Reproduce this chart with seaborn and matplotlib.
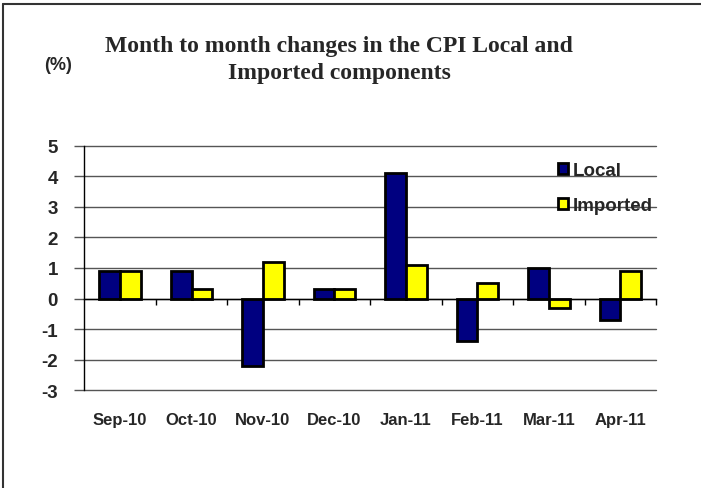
import pandas as pd
import numpy as np
import matplotlib.pyplot as plt
import seaborn as sns
from matplotlib.lines import Line2D

months = ['Sep-10', 'Oct-10', 'Nov-10', 'Dec-10', 'Jan-11', 'Feb-11', 'Mar-11', 'Apr-11']
local = [0.9, 0.9, -2.2, 0.3, 4.1, -1.4, 1.0, -0.7]
imported = [0.9, 0.3, 1.2, 0.3, 1.1, 0.5, -0.3, 0.9]

df = pd.DataFrame({'month': months * 2,
                   'value': local + imported,
                   'series': ['Local'] * len(months) + ['Imported'] * len(months)})

sns.set_style('white')
plt.rcParams['font.family'] = ['Liberation Sans', 'DejaVu Sans']
plt.rcParams['axes.unicode_minus'] = False

fig = plt.figure(figsize=(7.01, 4.89), dpi=100)
ax = fig.add_axes([0.1203, 0.2004, 0.8155, 0.499])

sns.barplot(data=df, x='month', y='value', hue='series',
            palette={'Local': '#000080', 'Imported': '#FFFF00'},
            width=0.58, edgecolor='black', linewidth=2, saturation=1, ax=ax)

ax.set_ylim(-3, 5)
ax.set_xlim(-0.5, 7.5)
ax.set_yticks(range(-3, 6))
ax.yaxis.grid(True, color='#555555', linewidth=1)
for gl in ax.get_ygridlines():
    gl.set_clip_on(False)
ax.set_axisbelow(True)
ax.set_xlabel('')
ax.set_ylabel('')

for s in ['top', 'right']:
    ax.spines[s].set_visible(False)
ax.spines['left'].set_color('black')
ax.spines['left'].set_linewidth(1)
ax.spines['bottom'].set_position(('data', 0))
ax.spines['bottom'].set_color('black')
ax.spines['bottom'].set_linewidth(1)

# small ticks on the zero line between months
ax.set_xticks(np.arange(0.5, 8, 1), minor=True)
ax.tick_params(axis='x', which='minor', bottom=True, length=4, width=1, color='black', direction='out')
ax.tick_params(axis='x', which='major', bottom=True, length=0, pad=82)
ax.tick_params(axis='y', left=True, length=7, width=1, color='#555555', pad=12)
for lab in ax.get_xticklabels():
    lab.set_fontsize(12)
    lab.set_fontweight('bold')
for lab in ax.get_yticklabels():
    lab.set_fontsize(13.5)
    lab.set_fontweight('bold')

handles, labels = ax.get_legend_handles_labels()
ax.legend(handles, labels, loc='upper left', bbox_to_anchor=(0.829, 0.933),
          frameon=False, handlelength=0.5, handleheight=0.5, handletextpad=0.25,
          labelspacing=0.95, borderaxespad=0, borderpad=0,
          prop={'weight': 'bold', 'size': 13.5})

fig.text(0.4836, 0.8937, 'Month to month changes in the CPI Local and',
         ha='center', va='baseline', family='Liberation Serif', weight='bold', fontsize=17)
fig.text(0.4836, 0.8384, 'Imported components',
         ha='center', va='baseline', family='Liberation Serif', weight='bold', fontsize=17)
fig.text(0.083, 0.867, '(%)', ha='center', va='center', weight='bold', fontsize=13)

# frame lines at the left and top edge
fig.add_artist(Line2D([0.0043, 0.0043], [0, 0.99], color='#333333', linewidth=1.5))
fig.add_artist(Line2D([0.0043, 1], [0.99, 0.99], color='#333333', linewidth=1.5))

fig.savefig('out.png', dpi=100)
